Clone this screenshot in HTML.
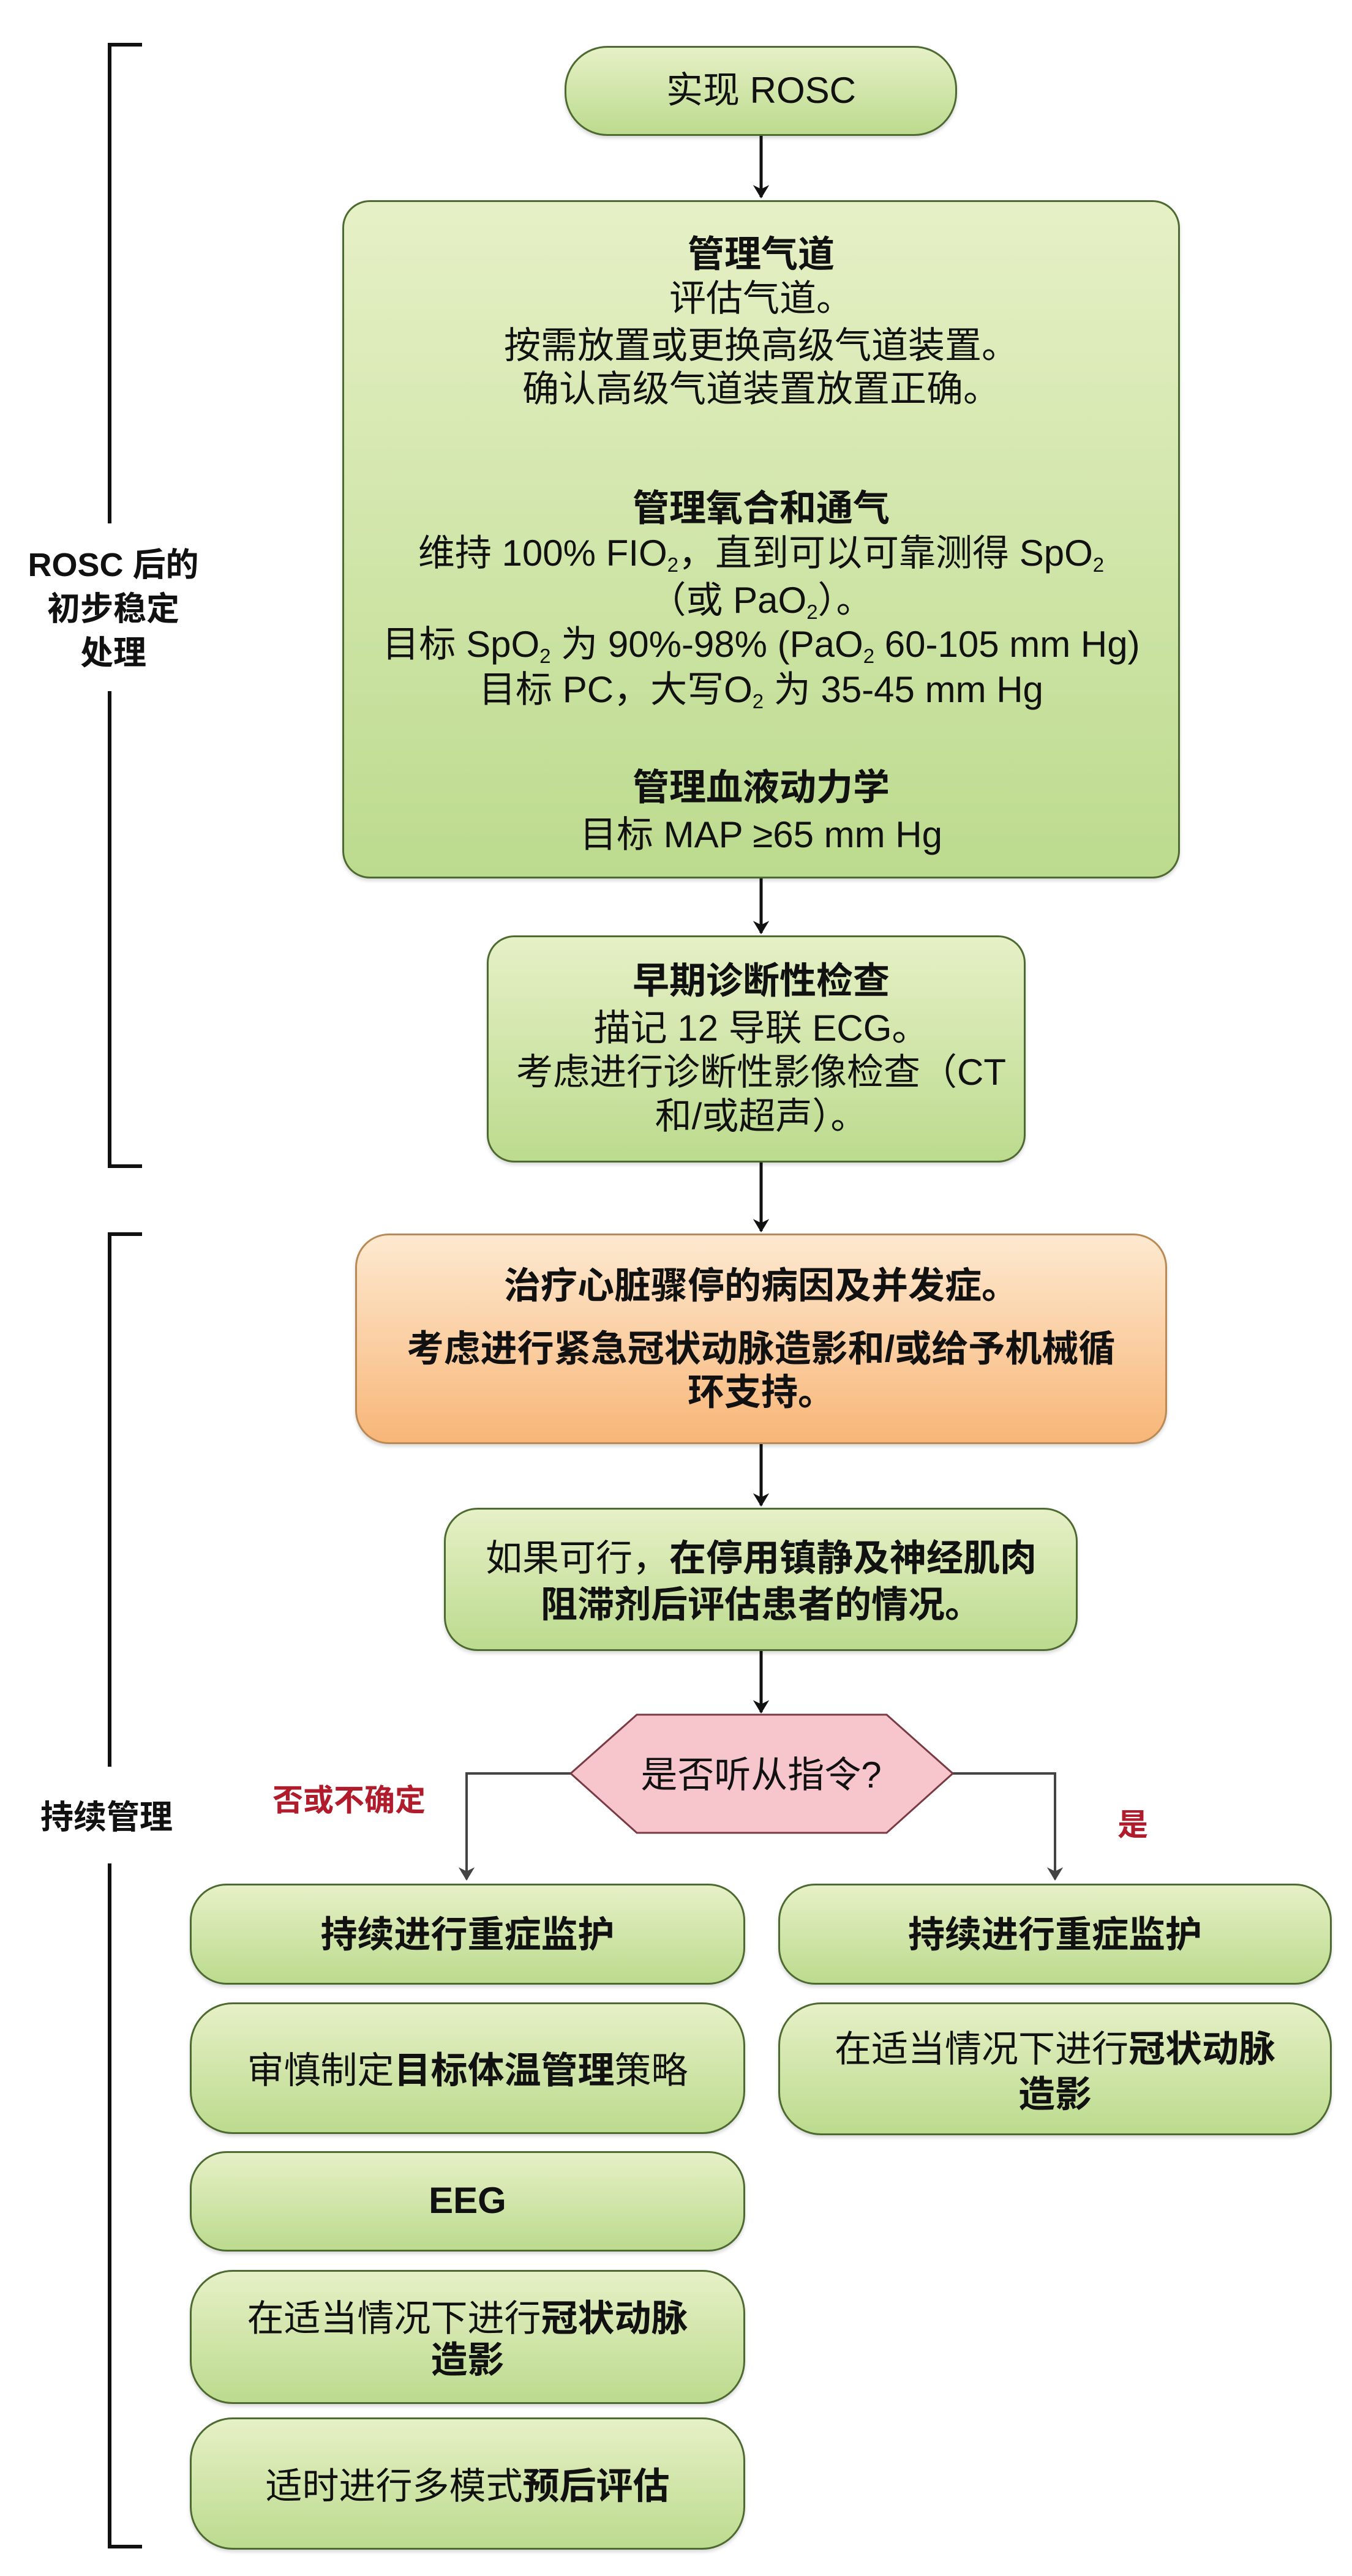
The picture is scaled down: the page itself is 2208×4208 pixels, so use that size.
<!DOCTYPE html>
<html><head><meta charset="utf-8">
<style>
*{margin:0;padding:0;box-sizing:border-box}
body{width:2208px;height:4208px;background:#fff;position:relative;overflow:hidden;font-family:"Liberation Sans","Noto Sans CJK SC",sans-serif;color:#111}
.b{position:absolute;border:3px solid #4d6a30;background:linear-gradient(#e6f0c6,#bcdb8e);box-shadow:0 4px 6px rgba(0,0,0,0.15)}
.o{position:absolute;border:3px solid #b98a55;background:linear-gradient(#fde9d0,#f8b678);box-shadow:0 4px 6px rgba(0,0,0,0.15)}
.t{position:absolute;left:139px;width:2208px;height:80px;line-height:80px;text-align:center;white-space:nowrap;font-size:60px}
.k{font-weight:bold}
sub{font-size:0.55em;vertical-align:-0.3em;line-height:0}
</style></head><body>
<svg width="2208" height="4208" style="position:absolute;left:0;top:0">
<defs>
<marker id="a" markerWidth="22" markerHeight="30" refX="9" refY="6" orient="auto" markerUnits="userSpaceOnUse" viewBox="0 0 10 12"><path d="M0,0 L10,6 L0,12 L3,6z" fill="#111"/></marker>
<marker id="g" markerWidth="22" markerHeight="30" refX="9" refY="6" orient="auto" markerUnits="userSpaceOnUse" viewBox="0 0 10 12"><path d="M0,0 L10,6 L0,12 L3,6z" fill="#444"/></marker>
</defs>
<g stroke="#111" stroke-width="6" fill="none">
<path d="M232,73 H179 V855 M179,1129 V1905 H232"/>
<path d="M232,2016 H179 V2886 M179,3044 V4160 H232"/>
</g>
<g stroke="#111" stroke-width="5" fill="none">
<line x1="1243" y1="222" x2="1243" y2="322" marker-end="url(#a)"/>
<line x1="1243" y1="1435" x2="1243" y2="1524" marker-end="url(#a)"/>
<line x1="1243" y1="1899" x2="1243" y2="2011" marker-end="url(#a)"/>
<line x1="1243" y1="2359" x2="1243" y2="2459" marker-end="url(#a)"/>
<line x1="1243" y1="2697" x2="1243" y2="2797" marker-end="url(#a)"/>
<line x1="1243" y1="670" x2="1243" y2="766" stroke-width="4" marker-end="url(#a)"/>
<line x1="1243" y1="1168" x2="1243" y2="1263" stroke-width="4" marker-end="url(#a)"/>
</g>
<g stroke="#444" stroke-width="4" fill="none">
<path d="M932,2897 H762 V3070" marker-end="url(#g)"/>
<path d="M1556,2897 H1723 V3070" marker-end="url(#g)"/>
</g>
<polygon points="1040,2801 1448,2801 1556,2897 1448,2994 1040,2994 932,2897" fill="#f6c6cc" stroke="#7a3a44" stroke-width="3"/>
</svg>

<div class="b" style="left:922px;top:75px;width:641px;height:147px;border-radius:70px"></div>
<div class="b" style="left:559px;top:327px;width:1368px;height:1108px;border-radius:45px"></div>
<div class="b" style="left:795px;top:1528px;width:880px;height:371px;border-radius:45px"></div>
<div class="o" style="left:580px;top:2015px;width:1326px;height:344px;border-radius:55px"></div>
<div class="b" style="left:725px;top:2463px;width:1035px;height:234px;border-radius:55px"></div>
<div class="b" style="left:310px;top:3077px;width:907px;height:165px;border-radius:60px"></div>
<div class="b" style="left:1271px;top:3077px;width:904px;height:165px;border-radius:60px"></div>
<div class="b" style="left:310px;top:3271px;width:907px;height:215px;border-radius:70px"></div>
<div class="b" style="left:1271px;top:3271px;width:904px;height:217px;border-radius:70px"></div>
<div class="b" style="left:310px;top:3514px;width:907px;height:164px;border-radius:60px"></div>
<div class="b" style="left:310px;top:3708px;width:907px;height:219px;border-radius:70px"></div>
<div class="b" style="left:310px;top:3949px;width:907px;height:216px;border-radius:70px"></div>

<div class="t" style="top:108px">实现 ROSC</div>
<div class="t k" style="top:376px">管理气道</div>
<div class="t" style="top:448px">评估气道。</div>
<div class="t" style="top:525px">按需放置或更换高级气道装置。</div>
<div class="t" style="top:596px">确认高级气道装置放置正确。</div>
<div class="t k" style="top:791px">管理氧合和通气</div>
<div class="t" style="top:864px">维持 100% FIO<sub>2</sub>，直到可以可靠测得 SpO<sub>2</sub></div>
<div class="t" style="top:941px">（或 PaO<sub>2</sub>）。</div>
<div class="t" style="top:1013px">目标 SpO<sub>2</sub> 为 90%-98% (PaO<sub>2</sub> 60-105 mm Hg)</div>
<div class="t" style="top:1087px">目标 PC，大写O<sub>2</sub> 为 35-45 mm Hg</div>
<div class="t k" style="top:1247px">管理血液动力学</div>
<div class="t" style="top:1324px">目标 MAP ≥65 mm Hg</div>
<div class="t k" style="top:1563px">早期诊断性检查</div>
<div class="t" style="top:1640px">描记 12 导联 ECG。</div>
<div class="t" style="top:1712px">考虑进行诊断性影像检查（CT</div>
<div class="t" style="top:1784px">和/或超声）。</div>
<div class="t k" style="top:2061px">治疗心脏骤停的病因及并发症。</div>
<div class="t k" style="top:2164px">考虑进行紧急冠状动脉造影和/或给予机械循</div>
<div class="t k" style="top:2235px">环支持。</div>
<div class="t" style="top:2506px">如果可行，<b>在停用镇静及神经肌肉</b></div>
<div class="t k" style="top:2582px">阻滞剂后评估患者的情况。</div>
<div class="t" style="top:2860px">是否听从指令?</div>

<div class="t k" style="left:0;width:370px;top:883px;font-size:54px">ROSC 后的</div>
<div class="t k" style="left:0;width:370px;top:955px;font-size:54px">初步稳定</div>
<div class="t k" style="left:0;width:370px;top:1027px;font-size:54px">处理</div>
<div class="t k" style="left:0;width:348px;top:2929px;font-size:54px">持续管理</div>
<div class="t k" style="left:425px;width:290px;top:2901px;font-size:50px;color:#b01c2c">否或不确定</div>
<div class="t k" style="left:1820px;width:60px;top:2941px;font-size:50px;color:#b01c2c">是</div>

<div class="t k" style="left:310px;width:907px;top:3121px">持续进行重症监护</div>
<div class="t k" style="left:1271px;width:904px;top:3121px">持续进行重症监护</div>
<div class="t" style="left:310px;width:907px;top:3343px">审慎制定<b>目标体温管理</b>策略</div>
<div class="t" style="left:1271px;width:904px;top:3308px">在适当情况下进行<b>冠状动脉</b></div>
<div class="t k" style="left:1271px;width:904px;top:3382px">造影</div>
<div class="t k" style="left:310px;width:907px;top:3555px">EEG</div>
<div class="t" style="left:310px;width:907px;top:3748px">在适当情况下进行<b>冠状动脉</b></div>
<div class="t k" style="left:310px;width:907px;top:3816px">造影</div>
<div class="t" style="left:310px;width:907px;top:4022px">适时进行多模式<b>预后评估</b></div>
</body></html>
